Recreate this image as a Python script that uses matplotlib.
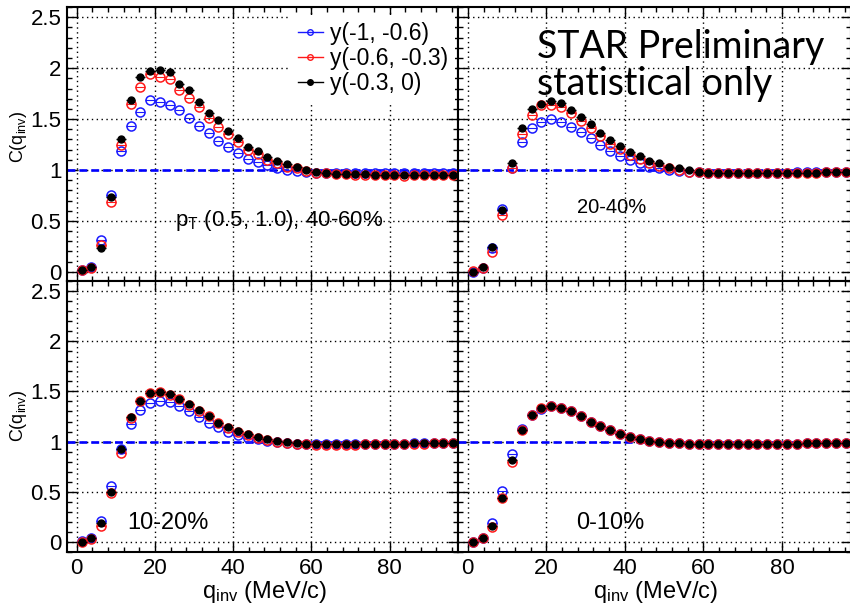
import matplotlib
matplotlib.use("Agg")
import matplotlib.pyplot as plt
from matplotlib.lines import Line2D
from matplotlib.ticker import MultipleLocator

plt.rcParams['font.family'] = ['Liberation Sans', 'DejaVu Sans']
plt.rcParams['mathtext.default'] = 'regular'

# bin centres of q_inv (MeV/c)
q_inv = [1.25, 3.75, 6.25, 8.75, 11.25, 13.75, 16.25, 18.75, 21.25, 23.75,
         26.25, 28.75, 31.25, 33.75, 36.25, 38.75, 41.25, 43.75, 46.25, 48.75,
         51.25, 53.75, 56.25, 58.75, 61.25, 63.75, 66.25, 68.75, 71.25, 73.75,
         76.25, 78.75, 81.25, 83.75, 86.25, 88.75, 91.25, 93.75, 96.25]

labels = ['y(-1, -0.6)', 'y(-0.6, -0.3)', 'y(-0.3, 0)']

# 40-60%
c4060_y1 = [0.02, 0.05, 0.31, 0.75, 1.19, 1.43, 1.57, 1.69, 1.67, 1.64,
            1.59, 1.51, 1.43, 1.36, 1.28, 1.23, 1.17, 1.11, 1.08, 1.05,
            1.02, 1.00, 0.99, 0.98, 0.97, 0.97, 0.97, 0.97, 0.97, 0.97,
            0.97, 0.97, 0.97, 0.97, 0.97, 0.97, 0.97, 0.97, 0.97]
c4060_y2 = [0.02, 0.04, 0.26, 0.69, 1.25, 1.65, 1.81, 1.94, 1.91, 1.89,
            1.79, 1.71, 1.62, 1.51, 1.42, 1.35, 1.27, 1.20, 1.16, 1.10,
            1.07, 1.03, 1.02, 0.99, 0.97, 0.97, 0.96, 0.96, 0.95, 0.95,
            0.95, 0.95, 0.95, 0.94, 0.95, 0.95, 0.95, 0.95, 0.95]
c4060_y3 = [0.02, 0.05, 0.23, 0.73, 1.30, 1.69, 1.91, 1.97, 1.98, 1.96,
            1.84, 1.79, 1.67, 1.56, 1.49, 1.38, 1.31, 1.23, 1.19, 1.13,
            1.09, 1.06, 1.03, 1.00, 0.98, 0.97, 0.96, 0.96, 0.96, 0.96,
            0.95, 0.95, 0.95, 0.95, 0.95, 0.95, 0.95, 0.95, 0.95]

# 20-40%
c2040_y1 = [0.00, 0.04, 0.23, 0.62, 1.02, 1.27, 1.41, 1.47, 1.50, 1.47,
            1.42, 1.37, 1.31, 1.25, 1.19, 1.14, 1.10, 1.07, 1.03, 1.02,
            1.00, 0.99, 0.98, 0.98, 0.97, 0.97, 0.97, 0.97, 0.97, 0.97,
            0.97, 0.97, 0.97, 0.98, 0.98, 0.98, 0.98, 0.98, 0.98]
c2040_y2 = [0.01, 0.04, 0.19, 0.56, 1.02, 1.35, 1.54, 1.64, 1.64, 1.62,
            1.56, 1.48, 1.41, 1.33, 1.26, 1.21, 1.15, 1.11, 1.07, 1.04,
            1.02, 1.00, 0.98, 0.98, 0.97, 0.97, 0.97, 0.97, 0.97, 0.97,
            0.97, 0.97, 0.97, 0.97, 0.97, 0.97, 0.98, 0.98, 0.98]
c2040_y3 = [0.00, 0.05, 0.24, 0.61, 1.07, 1.41, 1.60, 1.65, 1.68, 1.66,
            1.59, 1.52, 1.45, 1.36, 1.29, 1.24, 1.18, 1.14, 1.09, 1.07,
            1.03, 1.02, 1.00, 0.98, 0.97, 0.97, 0.97, 0.97, 0.97, 0.97,
            0.97, 0.97, 0.97, 0.97, 0.97, 0.97, 0.98, 0.98, 0.98]

# 10-20%
c1020_y1 = [0.01, 0.04, 0.21, 0.56, 0.93, 1.18, 1.31, 1.38, 1.40, 1.39,
            1.35, 1.30, 1.24, 1.19, 1.15, 1.10, 1.07, 1.04, 1.03, 1.01,
            1.00, 0.99, 0.98, 0.98, 0.98, 0.98, 0.98, 0.98, 0.98, 0.98,
            0.98, 0.98, 0.98, 0.98, 0.99, 0.99, 0.99, 0.99, 0.99]
c1020_y2 = [0.00, 0.03, 0.16, 0.49, 0.89, 1.23, 1.40, 1.48, 1.49, 1.46,
            1.42, 1.36, 1.30, 1.25, 1.19, 1.14, 1.10, 1.07, 1.04, 1.02,
            1.00, 0.99, 0.98, 0.98, 0.97, 0.97, 0.97, 0.97, 0.97, 0.98,
            0.98, 0.98, 0.98, 0.98, 0.98, 0.98, 0.99, 0.99, 0.99]
c1020_y3 = [0.00, 0.04, 0.19, 0.50, 0.93, 1.24, 1.40, 1.48, 1.49, 1.47,
            1.42, 1.37, 1.31, 1.25, 1.19, 1.15, 1.11, 1.08, 1.05, 1.03,
            1.01, 1.00, 0.99, 0.98, 0.98, 0.98, 0.98, 0.98, 0.98, 0.98,
            0.98, 0.98, 0.98, 0.98, 0.99, 0.99, 0.99, 0.99, 0.99]

# 0-10%
c0010_y1 = [0.00, 0.04, 0.19, 0.51, 0.88, 1.13, 1.26, 1.32, 1.35, 1.33,
            1.30, 1.25, 1.20, 1.16, 1.12, 1.08, 1.05, 1.03, 1.01, 1.00,
            0.99, 0.99, 0.98, 0.98, 0.98, 0.98, 0.98, 0.98, 0.98, 0.98,
            0.98, 0.98, 0.98, 0.98, 0.99, 0.99, 0.99, 0.99, 0.99]
c0010_y2 = [0.00, 0.04, 0.15, 0.44, 0.80, 1.12, 1.26, 1.33, 1.35, 1.33,
            1.30, 1.25, 1.20, 1.16, 1.12, 1.08, 1.05, 1.03, 1.01, 1.00,
            0.99, 0.99, 0.98, 0.98, 0.98, 0.98, 0.98, 0.98, 0.98, 0.98,
            0.98, 0.98, 0.98, 0.98, 0.99, 0.99, 0.99, 0.99, 0.99]
c0010_y3 = [0.00, 0.04, 0.16, 0.44, 0.82, 1.12, 1.26, 1.33, 1.35, 1.33,
            1.30, 1.25, 1.20, 1.16, 1.12, 1.08, 1.05, 1.03, 1.01, 1.00,
            0.99, 0.99, 0.98, 0.98, 0.98, 0.98, 0.98, 0.98, 0.98, 0.98,
            0.98, 0.98, 0.98, 0.98, 0.99, 0.99, 0.99, 0.99, 0.99]

colors = ['#1a1aff', '#ff1a1a', 'black']

fig = plt.figure(figsize=(8.5, 6.11), dpi=100)

ax_tl = fig.add_axes([0.0788, 0.5401, 0.4600, 0.4484])
ax_tr = fig.add_axes([0.5388, 0.5401, 0.4620, 0.4484])
ax_bl = fig.add_axes([0.0788, 0.0966, 0.4600, 0.4435])
ax_br = fig.add_axes([0.5388, 0.0966, 0.4620, 0.4435])

panels = [
    (ax_tl, [c4060_y1, c4060_y2, c4060_y3], (-0.09, 2.6), True, False),
    (ax_tr, [c2040_y1, c2040_y2, c2040_y3], (-0.09, 2.6), False, False),
    (ax_bl, [c1020_y1, c1020_y2, c1020_y3], (-0.1, 2.6), True, True),
    (ax_br, [c0010_y1, c0010_y2, c0010_y3], (-0.1, 2.6), False, True),
]

for ax, series, ylim, ylab, xlab in panels:
    ax.set_xlim(-2.5, 97.5)
    ax.set_ylim(*ylim)
    ax.axhline(1.0, color='#0000ff', lw=1.9, ls=(0, (3, 1.5)), zorder=2)
    for vals, c in zip(series, colors):
        if c == 'black':
            ax.errorbar(q_inv, vals, xerr=1.25, fmt='o', ms=5, color=c,
                        elinewidth=1, capsize=0, zorder=5)
        else:
            ax.errorbar(q_inv, vals, xerr=1.25, fmt='o', ms=6.5, mfc='none',
                        mec=c, mew=1.1, color=c, elinewidth=0.8, capsize=0,
                        zorder=4)
    ax.xaxis.set_major_locator(MultipleLocator(20))
    ax.xaxis.set_minor_locator(MultipleLocator(4))
    ax.yaxis.set_major_locator(MultipleLocator(0.5))
    ax.yaxis.set_minor_locator(MultipleLocator(0.1))
    ax.grid(True, which='major', color='black', ls=(0, (1, 2.5)), lw=1)
    ax.set_axisbelow(True)
    ax.tick_params(which='both', direction='in', top=True, right=True,
                   width=1, labelsize=16, pad=4)
    ax.tick_params(which='major', length=7)
    ax.tick_params(which='minor', length=3.5)
    for s in ax.spines.values():
        s.set_linewidth(1.5)
    ax.set_yticks([0, 0.5, 1, 1.5, 2, 2.5])
    ax.set_yticklabels(['0', '0.5', '1', '1.5', '2', '2.5'] if ylab else [])
    if xlab:
        ax.set_xticks([0, 20, 40, 60, 80])
        ax.set_xticklabels(['0', '20', '40', '60', '80'])
    else:
        ax.set_xticklabels([])

# legend (white box, no border, as in ROOT TLegend)
handles = [Line2D([], [], color=colors[0], marker='o', ms=4, mfc='none', lw=1),
           Line2D([], [], color=colors[1], marker='o', ms=4, mfc='none', lw=1),
           Line2D([], [], color=colors[2], marker='o', ms=4, lw=1)]
leg = ax_tl.legend(handles, labels, loc='upper left',
                   bbox_to_anchor=(0.342, 0.9755),
                   bbox_transform=fig.transFigure, frameon=True, fontsize=16.5,
                   handlelength=1.1, handletextpad=0.3, labelspacing=0.1,
                   borderpad=0.3, borderaxespad=0, fancybox=False,
                   facecolor='white', edgecolor='none', framealpha=1)
leg.set_zorder(10)

# panel labels
ax_tl.text(25, 0.5, r'p$_T$ (0.5, 1.0), 40-60%', fontsize=16, va='center')
ax_tr.text(27.8, 0.63, '20-40%', fontsize=14.5, va='center')
ax_bl.text(13, 0.19, '10-20%', fontsize=17, va='center')
ax_br.text(27.6, 0.19, '0-10%', fontsize=17, va='center')

fig.text(0.632, 0.905, 'STAR Preliminary', fontsize=27, family='Lato')
fig.text(0.632, 0.8445, 'statistical only', fontsize=27, family='Lato')

fig.text(0.022, 0.776, r'C(q$_{inv}$)', fontsize=13, rotation=90,
         ha='center', va='center')
fig.text(0.022, 0.319, r'C(q$_{inv}$)', fontsize=13, rotation=90,
         ha='center', va='center')
fig.text(0.311, 0.031, r'q$_{inv}$ (MeV/c)', fontsize=17, ha='center', va='center')
fig.text(0.771, 0.031, r'q$_{inv}$ (MeV/c)', fontsize=17, ha='center', va='center')

fig.savefig('out.png', dpi=100)
